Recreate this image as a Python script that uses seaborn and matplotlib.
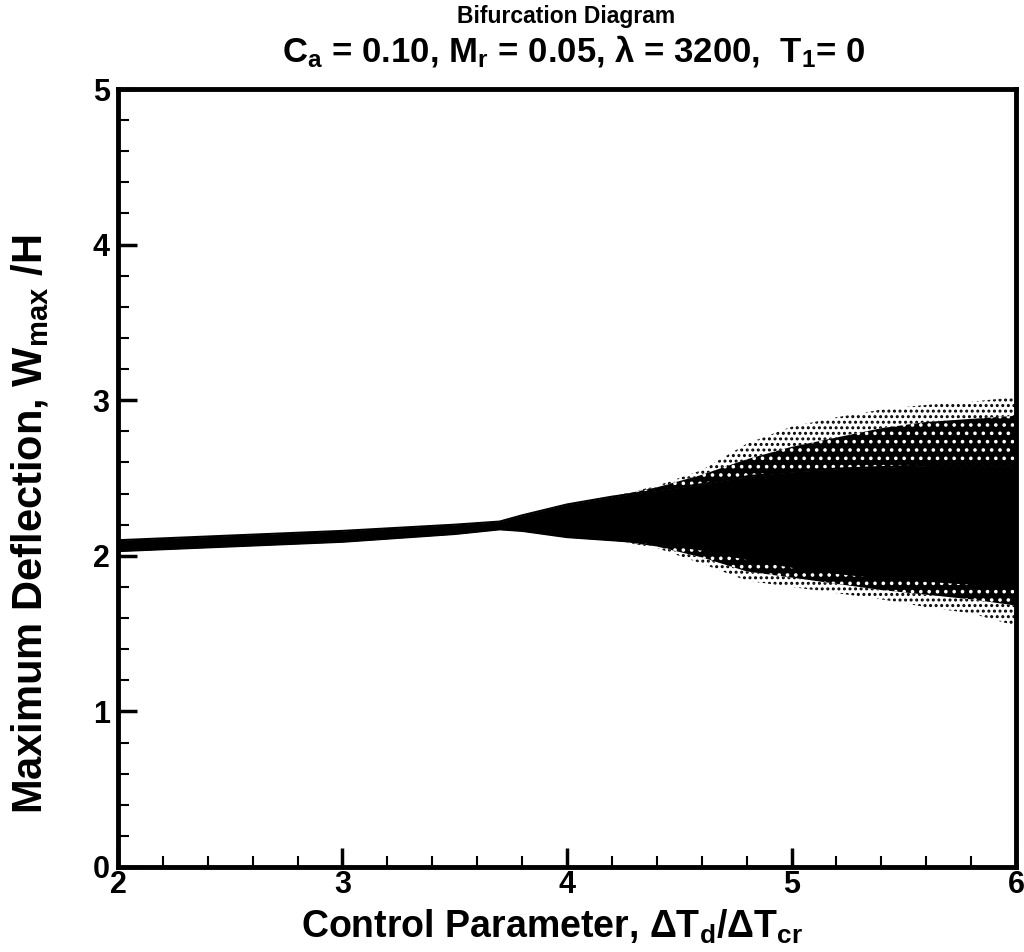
import matplotlib
matplotlib.use("Agg")
import matplotlib.pyplot as plt
from matplotlib.ticker import MultipleLocator
import seaborn as sns
import pandas as pd

# Control parameter sampling and envelopes of the response cloud
control = [2.0, 2.5, 3.0, 3.5, 3.7, 3.8, 4.0, 4.2, 4.4, 4.6, 4.8, 5.0, 5.2, 5.4, 5.6, 5.8, 6.0]
core_low = [2.03, 2.06, 2.09, 2.14, 2.17, 2.16, 2.12, 2.10, 2.08, 2.04, 1.98, 1.93, 1.89, 1.86, 1.84, 1.82, 1.80]
core_high = [2.10, 2.13, 2.16, 2.20, 2.22, 2.26, 2.33, 2.38, 2.42, 2.46, 2.51, 2.54, 2.56, 2.57, 2.58, 2.58, 2.58]
dense_low = [2.03, 2.06, 2.09, 2.14, 2.17, 2.16, 2.12, 2.10, 2.06, 1.99, 1.90, 1.86, 1.82, 1.78, 1.75, 1.72, 1.68]
dense_high = [2.10, 2.13, 2.16, 2.20, 2.22, 2.26, 2.33, 2.38, 2.44, 2.52, 2.62, 2.70, 2.76, 2.82, 2.86, 2.88, 2.90]
sparse_low = [2.03, 2.06, 2.09, 2.14, 2.17, 2.16, 2.12, 2.10, 2.05, 1.95, 1.84, 1.80, 1.76, 1.72, 1.67, 1.63, 1.55]
sparse_high = [2.10, 2.13, 2.16, 2.20, 2.22, 2.26, 2.33, 2.38, 2.45, 2.55, 2.72, 2.83, 2.89, 2.94, 2.97, 2.99, 3.02]

x_ticks = [2, 3, 4, 5, 6]
y_ticks = [0, 1, 2, 3, 4, 5]

df = pd.DataFrame({
    "control": control,
    "core_low": core_low,
    "core_high": core_high,
    "dense_low": dense_low,
    "dense_high": dense_high,
    "sparse_low": sparse_low,
    "sparse_high": sparse_high,
})

sns.set_style("white")
plt.rcParams["font.family"] = ["Liberation Sans", "DejaVu Sans"]
plt.rcParams["font.weight"] = "bold"
plt.rcParams["mathtext.default"] = "regular"
plt.rcParams["hatch.linewidth"] = 1.4
for key in ["text.color", "axes.labelcolor", "xtick.color", "ytick.color", "axes.edgecolor"]:
    plt.rcParams[key] = "black"

fig = plt.figure(figsize=(10.24, 9.52), dpi=100)
ax = fig.add_axes([0.1152, 0.0893, 0.8770, 0.8172])

# sparse outer edge of the chaotic cloud: isolated points
ax.fill_between(df["control"], df["sparse_low"], df["dense_low"],
                facecolor="white", edgecolor="black", hatch="...", linewidth=0)
ax.fill_between(df["control"], df["dense_high"], df["sparse_high"],
                facecolor="white", edgecolor="black", hatch="...", linewidth=0)
# dense speckled zone next to the core
ax.fill_between(df["control"], df["dense_low"], df["core_low"],
                facecolor="black", edgecolor="white", hatch="..", linewidth=0)
ax.fill_between(df["control"], df["core_high"], df["dense_high"],
                facecolor="black", edgecolor="white", hatch="..", linewidth=0)
# solid core
ax.fill_between(df["control"], df["core_low"], df["core_high"],
                color="black", linewidth=0)
sns.lineplot(data=df, x="control", y="core_low", ax=ax, color="black", linewidth=1.5)
sns.lineplot(data=df, x="control", y="core_high", ax=ax, color="black", linewidth=1.5)

ax.set_xlim(2, 6)
ax.set_ylim(0, 5)
ax.set_xticks(x_ticks)
ax.set_yticks(y_ticks)
ax.xaxis.set_minor_locator(MultipleLocator(0.2))
ax.yaxis.set_minor_locator(MultipleLocator(0.2))
ax.tick_params(which="both", direction="in", top=False, right=False,
               bottom=True, left=True, color="black")
ax.tick_params(which="major", length=14, width=2.5, labelsize=22)
ax.tick_params(which="minor", length=8, width=1.5)
ax.tick_params(axis="x", which="major", pad=2)
ax.tick_params(axis="y", which="major", pad=6)
for lab in ax.get_xticklabels() + ax.get_yticklabels():
    lab.set_fontweight("bold")

for side in ["left", "right", "top", "bottom"]:
    ax.spines[side].set_visible(True)
    ax.spines[side].set_linewidth(3.5)
    ax.spines[side].set_color("black")

ax.set_xlabel(r"Control Parameter, ΔT$_{d}$/ΔT$_{cr}$", fontsize=27,
              fontweight="bold")
ax.xaxis.set_label_coords(0.484, -0.052)
ax.set_ylabel(r"Maximum Deflection, W$_{max}$ /H", fontsize=30,
              fontweight="bold")
ax.yaxis.set_label_coords(-0.074, 0.44)

fig.text(0.553, 0.995, "Bifurcation Diagram", ha="center", va="top",
         fontsize=16.5, fontweight="bold")
fig.text(0.560, 0.965, r"C$_{a}$ = 0.10, M$_{r}$ = 0.05, λ = 3200,  T$_{1}$= 0",
         ha="center", va="top", fontsize=25, fontweight="bold")

fig.savefig("out.png", dpi=100)
